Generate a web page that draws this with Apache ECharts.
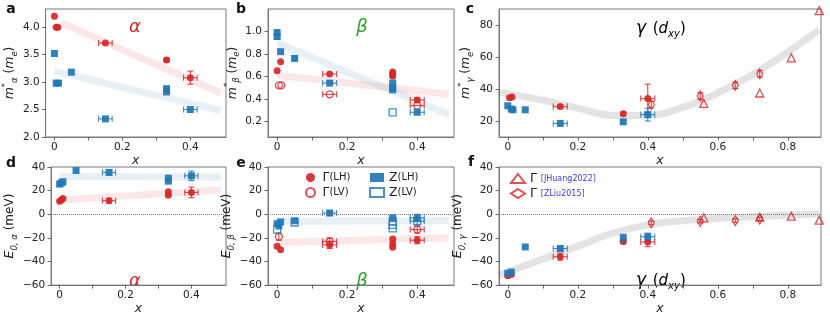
<!DOCTYPE html>
<html><head><meta charset="utf-8">
<script src="https://cdn.jsdelivr.net/npm/echarts@6/dist/echarts.min.js"></script>
<style>html,body{margin:0;padding:0;background:#fff}#c{width:830px;height:316px}</style>
</head><body><div id="c"></div>
<script>
// ---------- DATA: [x, y, xerr, yerr] ----------
const aG_LH = [[0,4.2,0,0],[0.005,4.0,0,0],[0.01,4.0,0,0],[0.15,3.71,0.02,0],[0.33,3.4,0.005,0.02],[0.4,3.08,0.02,0.12]];
const aZ_LH = [[0,3.52,0,0],[0.005,2.98,0,0],[0.012,2.98,0,0],[0.05,3.18,0,0],[0.15,2.33,0.02,0],[0.33,2.82,0,0],[0.33,2.88,0,0],[0.4,2.5,0.02,0]];
const aBandG = [[0.02,4.08],[0.49,2.8]];
const aBandZ = [[0,3.2],[0.49,2.48]];

const bG_LH = [[0,0.65,0,0],[0.01,0.73,0,0],[0.15,0.62,0.02,0],[0.33,0.6,0,0],[0.33,0.62,0,0],[0.33,0.64,0,0],[0.4,0.39,0.02,0.02]];
const bG_LV = [[0.005,0.52,0,0],[0.012,0.52,0,0],[0.15,0.44,0.02,0],[0.4,0.34,0.02,0]];
const bZ_LH = [[0,0.99,0,0.02],[0,0.955,0,0.02],[0.01,0.82,0,0],[0.05,0.76,0,0.02],[0.15,0.54,0.02,0],[0.33,0.54,0,0],[0.33,0.5,0,0],[0.33,0.48,0,0],[0.4,0.28,0.02,0]];
const bZ_LV = [[0.33,0.28,0,0]];
const bBandG = [[0,0.61],[0.49,0.44]];
const bBandZ = [[0,0.9],[0.49,0.26]];

const cG_LH = [[0.005,34.5,0,0],[0.012,35,0,0],[0.15,29,0.02,1],[0.33,24.5,0,1],[0.4,34,0.02,9]];
const cZ_LH = [[0,29.5,0,0],[0.01,27.5,0,0],[0.015,27,0,0],[0.05,27,0,0],[0.15,18.5,0.02,0],[0.33,19.5,0,1],[0.4,24,0.02,4]];
const cJHuang = [[0.56,31],[0.72,37.5],[0.81,59.5],[0.89,89]];
const cZLiu = [[0.41,30.3,0,2],[0.55,35.6,0,2],[0.65,42.3,0,2],[0.72,49.5,0,2]];
const cBand = [[-0.025,38],[0,37],[0.1,33],[0.2,28],[0.3,23.5],[0.4,23.5],[0.5,28.5],[0.6,37.5],[0.7,49],[0.8,63],[0.89,77]];

const dG_LH = [[0,11,0,0],[0.005,12,0,0],[0.01,13.4,0,0],[0.15,11.5,0.02,2],[0.33,16,0,0],[0.33,19,0,0],[0.4,18.5,0.02,4.5]];
const dZ_LH = [[0,25.5,0,0],[0.005,26.5,0,0],[0.01,27.5,0,0],[0.05,37,0,0],[0.15,35.4,0.02,2],[0.33,28,0,0],[0.33,30.5,0,0],[0.4,32.5,0.02,4]];
const dBandG = [[0,12],[0.49,20.5]];
const dBandZ = [[0,32],[0.49,31.5]];

const eG_LH = [[0,-27,0,0],[0.01,-30,0,0],[0.15,-26,0.02,3],[0.33,-21,0,0],[0.33,-25,0,0],[0.33,-28,0,0],[0.4,-22,0.02,3]];
const eG_LV = [[0.005,-19,0,3],[0.15,-23,0.02,3],[0.4,-13,0.02,3]];
const eZ_LH = [[0,-8,0,0],[0.005,-10,0,0],[0.01,-6.5,0,0],[0.05,-5.5,0,0],[0.15,1,0.02,2],[0.33,-3,0,0],[0.4,-3,0.02,3]];
const eZ_LV = [[0,-13,0,0],[0.05,-7,0,0],[0.33,-6,0,0],[0.33,-9,0,0],[0.33,-12,0,0],[0.4,-6,0.02,3]];
const eBandG = [[0,-24],[0.49,-20]];
const eBandZ = [[0,-6],[0.49,-5.5]];

const fG_LH = [[0,-52,0,0],[0.01,-51,0,0],[0.15,-36,0.02,3],[0.33,-23,0,2],[0.4,-23.5,0.02,4]];
const fZ_LH = [[0,-50,0,0],[0.01,-49,0,0],[0.05,-27.7,0,0],[0.15,-29,0.02,2],[0.33,-20,0,3],[0.4,-19,0.02,3]];
const fJHuang = [[0.56,-3],[0.72,-2.5],[0.81,-1.6],[0.89,-5]];
const fZLiu = [[0.41,-7.3,0,1.5],[0.55,-6,0,1.5],[0.65,-5.4,0,1.5],[0.72,-4,0,1.5]];
const fBand = [[-0.025,-52],[0,-49],[0.1,-38],[0.2,-27],[0.3,-16],[0.4,-9],[0.5,-5.5],[0.6,-3.5],[0.7,-2.2],[0.8,-0.9],[0.89,0.5]];

const xTicksShort = [0,0.1,0.2,0.3,0.4];
const xLabelsShort = [0,0.2,0.4];
const xTicksLong = [0,0.1,0.2,0.3,0.4,0.5,0.6,0.7,0.8];
const xLabelsLong = [0,0.2,0.4,0.6,0.8];
const yTicksA = [2.0,2.5,3.0,3.5,4.0];
const yTicksB = [0.2,0.4,0.6,0.8,1.0];
const yTicksC = [20,40,60,80];
const yTicksE = [-60,-40,-20,0,20,40];

// ---------- STYLE ----------
const FONT = 'DejaVu Sans';
const RED = '#d62728', BLUE = '#1f77b4', GREEN = '#2ca02c';
const FRAME = '#7a7a7a';
const grids = [
  {left:40, top:9, width:186, height:128},
  {left:268, top:9, width:186, height:128},
  {left:499, top:9, width:322, height:128},
  {left:40, top:167, width:186, height:125},
  {left:268, top:167, width:186, height:125},
  {left:499, top:167, width:322, height:125}
].map(g => Object.assign(g, {show:true, borderColor:FRAME, borderWidth:1, backgroundColor:'rgba(0,0,0,0)', containLabel:false}));

const minus = s => String(s).replace('-', '\u2212');
const fmtX = v => v === 0 ? '0' : v.toFixed(1);

function xAxis(i, long) {
  return {
    gridIndex:i, type:'value', position:'bottom', min:-(long?0.025:0.026), max: long?0.895:0.505,
    axisLine:{show:true, onZero:false, lineStyle:{color:FRAME, width:1}}, splitLine:{show:false},
    axisTick:{show:true, length:3.5, customValues: long?xTicksLong:xTicksShort, lineStyle:{color:'#444', width:0.8}},
    axisLabel:{customValues: long?xLabelsLong:xLabelsShort, formatter:fmtX, fontFamily:FONT, fontSize:10.5, color:'#222', margin:5},
    name:'x', nameLocation:'middle', nameGap:11,
    nameTextStyle:{fontFamily:FONT, fontStyle:'italic', fontSize:12.5, color:'#222'}
  };
}
const richName = {
  i:{fontFamily:FONT, fontStyle:'italic', fontSize:12.5, color:'#222'},
  n:{fontFamily:FONT, fontSize:12, color:'#222'},
  sup:{fontFamily:FONT, fontSize:8.5, color:'#222', verticalAlign:'top', lineHeight:16},
  sub:{fontFamily:FONT, fontStyle:'italic', fontSize:8.5, color:'#222', verticalAlign:'bottom', lineHeight:16}
};
function yAxis(i, min, max, ticks, fmt, name, gap) {
  return {
    gridIndex:i, type:'value', position:'left', min, max,
    axisLine:{show:true, onZero:false, lineStyle:{color:FRAME, width:1}}, splitLine:{show:false},
    axisTick:{show:true, length:3.5, customValues:ticks, lineStyle:{color:'#444', width:0.8}},
    axisLabel:{customValues:ticks, formatter:fmt, fontFamily:FONT, fontSize:10.5, color:'#222', margin:6},
    name, nameLocation:'middle', nameRotate:90, nameGap:gap,
    nameTextStyle:{fontFamily:FONT, fontSize:12, color:'#222', lineHeight:18, rich:richName}
  };
}

function errRender(color) {
  return function (params, api) {
    const x = api.value(0), y = api.value(1), xe = api.value(2), ye = api.value(3);
    const ch = [], cap = 3, st = {stroke:color, lineWidth:1.1, opacity:0.85};
    if (xe > 0) {
      const l = api.coord([x - xe, y]), r = api.coord([x + xe, y]);
      ch.push({type:'line', shape:{x1:l[0], y1:l[1], x2:r[0], y2:r[1]}, style:st});
      ch.push({type:'line', shape:{x1:l[0], y1:l[1]-cap, x2:l[0], y2:l[1]+cap}, style:st});
      ch.push({type:'line', shape:{x1:r[0], y1:r[1]-cap, x2:r[0], y2:r[1]+cap}, style:st});
    }
    if (ye > 0) {
      const t = api.coord([x, y + ye]), b = api.coord([x, y - ye]);
      ch.push({type:'line', shape:{x1:t[0], y1:t[1], x2:b[0], y2:b[1]}, style:st});
      ch.push({type:'line', shape:{x1:t[0]-cap, y1:t[1], x2:t[0]+cap, y2:t[1]}, style:st});
      ch.push({type:'line', shape:{x1:b[0]-cap, y1:b[1], x2:b[0]+cap, y2:b[1]}, style:st});
    }
    return {type:'group', children:ch};
  };
}

const series = [];
function band(i, data, rgb, smooth, zero) {
  const s = {
    type:'line', xAxisIndex:i, yAxisIndex:i, data, smooth: smooth ? 0.4 : false,
    showSymbol:false, silent:true, z:1,
    lineStyle:{width:7, color:'rgba('+rgb+',0.1)', shadowBlur:14, shadowColor:'rgba('+rgb+',0.28)', cap:'butt'}
  };
  if (zero) s.markLine = {silent:true, symbol:'none', label:{show:false},
    lineStyle:{type:'dotted', color:'#777', width:1}, data:[{yAxis:0}]};
  series.push(s);
}
function points(i, name, data, color, symbol, open, size) {
  series.push({type:'custom', xAxisIndex:i, yAxisIndex:i, data, renderItem:errRender(color),
    encode:{x:0, y:1}, z:2, silent:true});
  series.push({type:'scatter', name, xAxisIndex:i, yAxisIndex:i, data:data.map(d => [d[0], d[1]]),
    symbol, symbolSize:size || 7, z:3,
    itemStyle: open ? {color:'rgba(255,255,255,0)', borderColor:color, borderWidth:1.3}
                    : {color, opacity:0.92}});
}

band(0, aBandG, '214,39,40'); band(0, aBandZ, '31,119,180');
points(0, 'Γ(LH)', aG_LH, RED, 'circle'); points(0, 'Z(LH)', aZ_LH, BLUE, 'rect');

band(1, bBandG, '214,39,40'); band(1, bBandZ, '31,119,180');
points(1, 'Γ(LV)', bG_LV, RED, 'circle', true); points(1, 'Z(LV)', bZ_LV, BLUE, 'rect', true);
points(1, 'Γ(LH)', bG_LH, RED, 'circle'); points(1, 'Z(LH)', bZ_LH, BLUE, 'rect');

band(2, cBand, '0,0,0', true);
points(2, 'Γ(LH)', cG_LH, RED, 'circle'); points(2, 'Z(LH)', cZ_LH, BLUE, 'rect');
points(2, 'JHuang2022', cJHuang.map(d => [d[0], d[1], 0, 0]), RED, 'triangle', true, 8);
points(2, 'ZLiu2015', cZLiu, RED, 'diamond', true, [6, 10]);

band(3, dBandG, '214,39,40', false, true); band(3, dBandZ, '31,119,180');
points(3, 'Γ(LH)', dG_LH, RED, 'circle'); points(3, 'Z(LH)', dZ_LH, BLUE, 'rect');

band(4, eBandG, '214,39,40', false, true); band(4, eBandZ, '31,119,180');
points(4, 'Γ(LV)', eG_LV, RED, 'circle', true); points(4, 'Z(LV)', eZ_LV, BLUE, 'rect', true);
points(4, 'Γ(LH)', eG_LH, RED, 'circle'); points(4, 'Z(LH)', eZ_LH, BLUE, 'rect');

band(5, fBand, '0,0,0', true, true);
points(5, 'Γ(LH)', fG_LH, RED, 'circle'); points(5, 'Z(LH)', fZ_LH, BLUE, 'rect');
points(5, 'JHuang2022', fJHuang.map(d => [d[0], d[1], 0, 0]), RED, 'triangle', true, 8);
points(5, 'ZLiu2015', fZLiu, RED, 'diamond', true, [6, 10]);

const legRich = {
  g:{fontFamily:FONT, fontSize:12.5, color:'#222', lineHeight:15},
  s:{fontFamily:FONT, fontSize:10, color:'#222', lineHeight:15},
  r:{fontFamily:FONT, fontSize:8, color:'#3a3af0', lineHeight:15}
};
const legFmt = n => {
  if (n === 'JHuang2022' || n === 'ZLiu2015') return '{g|Γ} {r|[' + n + ']}';
  return '{g|' + n[0] + '}{s|' + n.slice(1) + '}';
};
const legendBase = {orient:'vertical', itemWidth:14, itemHeight:9, itemGap:0, padding:0, selectedMode:false,
  formatter:legFmt, textStyle:{rich:legRich, fontFamily:FONT, lineHeight:15}};

const gtext = (x, y, text, font, color) => ({type:'text', x, y,
  style:{text, font, fill:color || '#111', textAlign:'center', textVerticalAlign:'middle'}});
const gammaRich = {
  g:{fontSize:17, fontStyle:'italic', fontFamily:FONT, color:BLUE},
  p:{fontSize:15, fontFamily:FONT, color:BLUE},
  d:{fontSize:15, fontStyle:'italic', fontFamily:FONT, color:BLUE},
  s:{fontSize:10, fontStyle:'italic', fontFamily:FONT, color:BLUE, verticalAlign:'bottom', lineHeight:20}
};

const option = {
  animation:false,
  backgroundColor:'#fff',
  grid: grids,
  xAxis: [xAxis(0), xAxis(1), xAxis(2, true), xAxis(3), xAxis(4), xAxis(5, true)],
  yAxis: [
    yAxis(0, 2.0, 4.33, yTicksA, v => v.toFixed(1), '{i|m}{sup|*}{sub|α} ({i|m}{sub|e})', 25),
    yAxis(1, 0.06, 1.2, yTicksB, v => v.toFixed(1), '{i|m}{sup|*}{sub|β} ({i|m}{sub|e})', 25),
    yAxis(2, 10, 90, yTicksC, v => String(v), '{i|m}{sup|*}{sub|γ} ({i|m}{sub|e})', 24),
    yAxis(3, -60, 40, yTicksE, v => minus(v), '{i|E}{sub|0, α} (meV)', 27),
    yAxis(4, -60, 40, yTicksE, v => minus(v), '{i|E}{sub|0, β} (meV)', 27),
    yAxis(5, -60, 40, yTicksE, v => minus(v), '{i|E}{sub|0, γ} (meV)', 27)
  ],
  legend: [
    Object.assign({}, legendBase, {left:305, top:170, data:['Γ(LH)', 'Γ(LV)']}),
    Object.assign({}, legendBase, {left:369, top:170, data:['Z(LH)', 'Z(LV)']}),
    Object.assign({}, legendBase, {left:510, top:171, data:['JHuang2022', 'ZLiu2015']})
  ],
  series,
  graphic: [
    gtext(11, 9, 'a', 'bold 14px DejaVu Sans'),
    gtext(241, 9, 'b', 'bold 14px DejaVu Sans'),
    gtext(470, 9, 'c', 'bold 14px DejaVu Sans'),
    gtext(11, 163, 'd', 'bold 14px DejaVu Sans'),
    gtext(241, 163, 'e', 'bold 14px DejaVu Sans'),
    gtext(471, 162, 'f', 'bold 14px DejaVu Sans'),
    gtext(135, 27, 'α', 'italic 18px DejaVu Sans', RED),
    gtext(135, 281, 'α', 'italic 18px DejaVu Sans', RED),
    gtext(362, 27, 'β', 'italic 18px DejaVu Sans', GREEN),
    gtext(362, 281, 'β', 'italic 18px DejaVu Sans', GREEN),
    {type:'text', x:636, y:29, style:{text:'{g|γ}  {p|(}{d|d}{s|xy}{p|)}', textVerticalAlign:'middle', rich:gammaRich}},
    {type:'text', x:636, y:281, style:{text:'{g|γ}  {p|(}{d|d}{s|xy}{p|)}', textVerticalAlign:'middle', rich:gammaRich}}
  ]
};
const chart = echarts.init(document.getElementById('c'), null, {renderer:'canvas'});
chart.setOption(option);
</script></body></html>
